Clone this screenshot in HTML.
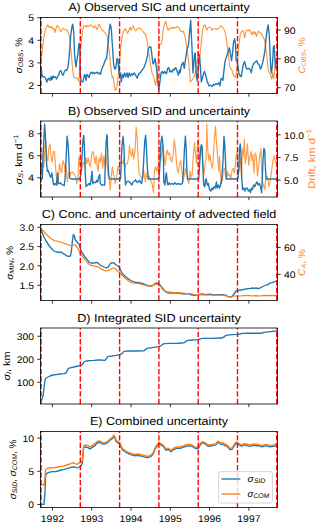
<!DOCTYPE html>
<html><head><meta charset="utf-8"><style>
html,body{margin:0;padding:0;background:#fff;}
svg{display:block;font-family:"Liberation Sans", sans-serif;text-rendering:geometricPrecision;}
</style></head><body>
<svg width="320" height="525" viewBox="0 0 320 525">
<defs><clipPath id="c0"><rect x="40.5" y="17.5" width="237.0" height="76.0"/></clipPath><clipPath id="c1"><rect x="40.5" y="121.0" width="237.0" height="76.0"/></clipPath><clipPath id="c2"><rect x="40.5" y="224.5" width="237.0" height="76.0"/></clipPath><clipPath id="c3"><rect x="40.5" y="328.0" width="237.0" height="76.0"/></clipPath><clipPath id="c4"><rect x="40.5" y="431.5" width="237.0" height="76.0"/></clipPath></defs>
<rect x="0" y="0" width="320" height="525" fill="#fff"/>
<g clip-path="url(#c0)">
<polyline points="41.20,59.20 42.30,50.00 43.80,37.90 45.30,29.50 46.90,26.40 47.90,24.90 48.80,27.20 49.90,26.40 51.00,28.00 51.90,26.40 53.00,29.50 54.00,28.70 55.20,32.50 56.50,26.40 57.50,25.70 58.60,27.20 59.80,29.50 61.00,31.80 62.10,29.50 63.20,28.00 64.40,29.50 65.60,29.50 66.70,30.20 67.70,31.00 69.00,34.80 70.00,40.90 71.20,53.10 72.30,65.30 73.20,74.40 73.80,77.50 74.50,77.50 76.00,77.50 77.60,79.00 78.80,81.30 79.40,72.90 80.30,53.10 81.40,40.90 82.40,31.80 83.70,26.40 85.20,25.70 86.40,27.20 87.50,25.70 88.50,26.40 89.80,25.70 91.00,24.90 92.00,26.40 93.60,28.00 94.60,25.70 95.90,27.20 97.10,29.50 98.10,26.40 99.20,24.10 100.40,27.20 101.60,29.50 102.70,30.20 104.20,31.80 105.80,34.00 107.20,36.30 108.30,44.00 109.40,53.10 110.30,62.20 111.30,71.40 112.10,77.50 112.90,76.00 113.60,80.50 114.40,86.60 115.40,90.40 116.70,88.10 117.90,79.00 119.00,66.80 120.00,56.10 120.90,45.50 122.00,37.90 123.10,32.50 124.30,30.20 125.50,28.70 126.60,31.80 127.60,33.30 128.90,30.20 130.10,27.20 131.10,30.20 132.20,28.00 133.40,25.70 134.60,29.50 135.70,31.00 137.20,28.70 138.80,28.00 140.50,28.70 142.00,30.20 143.60,32.50 145.10,34.00 146.30,37.10 147.40,42.40 148.40,50.00 149.70,59.20 150.90,66.80 152.00,72.90 153.50,76.00 154.50,80.50 155.50,85.10 156.50,79.00 157.60,72.90 158.50,53.10 159.60,44.70 161.10,44.00 162.20,39.40 163.40,28.70 164.60,24.10 165.70,21.10 166.20,22.60 167.30,28.70 168.40,30.20 169.60,28.00 171.10,28.70 172.30,27.20 173.40,28.70 174.40,27.20 175.70,28.00 177.20,26.40 178.70,27.20 180.00,30.20 181.50,31.80 183.00,31.00 184.60,34.80 186.10,42.40 187.60,53.10 189.10,66.80 190.40,82.00 192.20,79.80 193.70,77.50 195.20,72.90 196.80,66.80 197.50,57.70 198.30,51.60 199.40,60.70 200.30,53.10 201.30,42.40 202.60,30.20 203.60,25.70 205.10,24.90 206.70,30.20 208.20,27.50 210.50,27.50 212.00,30.20 213.50,28.70 215.30,28.70 216.40,29.50 217.60,28.70 219.10,28.00 220.60,25.70 221.80,26.40 222.90,28.00 224.40,30.20 226.00,36.30 227.00,44.00 228.20,53.10 229.50,65.30 230.50,68.30 231.60,69.10 232.80,72.90 234.00,76.00 235.10,77.50 236.20,74.40 237.10,65.30 238.10,53.10 239.20,42.40 240.40,33.30 241.60,31.80 242.70,30.20 243.80,32.50 244.70,37.90 245.80,31.80 246.80,30.20 247.20,30.20 248.30,31.00 249.40,29.50 250.60,31.80 251.80,34.80 252.90,31.80 253.90,34.00 255.10,31.80 256.40,36.30 257.40,33.30 258.50,31.00 259.70,32.50 261.20,33.30 262.80,36.30 264.30,39.40 265.50,45.50 266.60,54.60 267.60,63.80 268.60,71.40 269.60,72.90 270.70,75.20 271.60,79.00 272.70,72.90 273.40,79.00 274.60,71.40 275.70,59.20 277.20,57.70 278.50,57.00" fill="none" stroke="#ff7f0e" stroke-width="1.1" stroke-linejoin="round" stroke-linecap="butt" stroke-opacity="0.85"/>
<polyline points="41.20,66.80 41.80,74.40 43.00,76.70 44.60,76.70 45.80,79.00 46.90,82.00 47.90,79.00 48.80,78.20 49.90,80.50 51.00,76.70 51.90,79.80 53.00,76.00 54.00,77.50 55.20,76.70 56.50,79.00 57.50,76.70 58.60,75.20 59.80,71.40 61.00,70.60 62.10,74.40 63.20,75.20 64.40,71.40 65.60,69.90 66.70,70.60 67.70,68.30 68.60,62.20 69.70,50.00 70.80,34.80 72.00,26.40 72.80,24.10 73.80,33.30 74.50,53.10 75.30,62.20 76.00,66.80 76.80,60.70 77.60,56.10 78.30,50.00 79.10,43.20 79.90,50.00 80.30,72.90 80.90,80.50 81.80,81.30 82.90,82.00 84.00,76.00 84.90,74.40 86.00,80.50 87.00,74.40 88.20,76.00 89.00,77.50 90.10,73.70 91.30,72.10 92.50,73.70 93.60,72.10 94.60,73.70 95.90,72.90 97.10,72.10 98.10,73.70 99.20,72.90 100.40,74.40 102.00,68.30 103.50,65.30 105.00,60.70 106.50,58.40 107.20,53.10 108.30,40.90 109.40,28.70 110.30,24.10 111.30,28.70 112.40,45.50 113.60,63.80 114.40,68.30 115.40,69.10 116.40,63.80 117.10,58.40 117.90,59.20 118.50,66.80 119.40,74.40 120.50,72.90 121.20,82.00 122.50,74.40 123.50,77.50 124.60,72.90 125.80,76.70 127.00,72.90 128.10,77.50 129.20,72.90 130.40,76.00 131.60,73.70 132.70,75.20 134.20,72.90 135.70,75.20 137.20,78.20 138.80,73.70 140.20,72.90 141.30,71.40 142.80,69.10 144.30,66.80 145.90,62.20 147.40,56.10 148.40,48.50 149.70,47.00 150.90,47.00 152.00,56.10 153.00,63.80 154.20,62.20 155.00,58.40 156.10,65.30 157.00,72.90 158.00,83.60 158.80,89.70 159.90,82.00 161.10,72.90 162.20,71.40 163.40,73.70 164.60,71.40 165.70,72.90 166.50,73.70 167.70,68.30 168.80,67.60 169.90,72.10 171.10,70.60 172.30,72.10 173.40,69.10 174.40,69.90 175.70,67.60 176.90,70.60 178.40,75.20 179.50,69.90 180.00,72.90 181.50,65.30 183.00,62.20 184.30,68.30 185.30,60.70 186.90,50.00 188.40,45.50 189.40,34.80 190.70,20.30 191.90,45.50 193.00,72.90 194.50,54.60 195.20,53.00 196.30,76.00 197.20,80.50 198.30,68.30 199.40,54.60 200.30,65.30 201.30,82.00 202.90,76.00 204.40,71.40 205.90,76.00 207.40,82.00 209.00,85.90 210.50,85.10 212.00,86.60 213.50,84.30 214.50,85.10 216.00,83.60 217.60,84.30 219.10,82.80 219.90,85.90 220.90,79.00 221.80,78.20 222.90,80.50 224.00,69.90 225.20,60.70 226.70,56.10 228.20,51.60 229.50,47.80 230.50,54.60 231.60,60.70 232.50,53.10 233.60,41.70 234.60,38.60 235.60,45.50 236.20,60.70 237.10,59.20 237.80,65.30 238.90,72.90 240.10,76.00 241.20,76.70 242.30,69.90 243.50,63.80 244.70,61.50 245.80,66.80 246.80,69.10 247.50,69.10 249.00,68.30 250.30,69.90 251.30,72.90 252.40,66.80 253.60,63.80 255.10,62.20 256.70,60.70 257.90,63.80 259.40,65.30 260.50,69.10 261.50,66.80 262.80,62.20 264.00,56.10 265.00,50.00 266.10,37.90 267.30,28.70 268.20,24.90 269.20,34.80 270.10,53.10 270.80,69.90 271.60,72.90 272.70,60.70 273.40,47.00 274.20,45.50 275.00,60.70 275.70,68.30 276.50,60.70 277.20,57.70 278.50,57.00" fill="none" stroke="#1f77b4" stroke-width="1.37" stroke-linejoin="round" stroke-linecap="butt" />
</g>
<line x1="41.0" y1="93.5" x2="41.0" y2="17.5" stroke="#ff0000" stroke-width="1.37" stroke-dasharray="5.3 2.15"/>
<line x1="80.3" y1="93.5" x2="80.3" y2="17.5" stroke="#ff0000" stroke-width="1.37" stroke-dasharray="5.3 2.15"/>
<line x1="119.6" y1="93.5" x2="119.6" y2="17.5" stroke="#ff0000" stroke-width="1.37" stroke-dasharray="5.3 2.15"/>
<line x1="158.89999999999998" y1="93.5" x2="158.89999999999998" y2="17.5" stroke="#ff0000" stroke-width="1.37" stroke-dasharray="5.3 2.15"/>
<line x1="198.2" y1="93.5" x2="198.2" y2="17.5" stroke="#ff0000" stroke-width="1.37" stroke-dasharray="5.3 2.15"/>
<line x1="237.5" y1="93.5" x2="237.5" y2="17.5" stroke="#ff0000" stroke-width="1.37" stroke-dasharray="5.3 2.15"/>
<line x1="276.79999999999995" y1="93.5" x2="276.79999999999995" y2="17.5" stroke="#ff0000" stroke-width="1.37" stroke-dasharray="5.3 2.15"/>
<rect x="40.5" y="17.5" width="237.0" height="76.0" fill="none" stroke="#000" stroke-width="0.8"/>
<line x1="52.4" y1="93.5" x2="52.4" y2="96.7" stroke="#000" stroke-width="0.8"/>
<line x1="91.69999999999999" y1="93.5" x2="91.69999999999999" y2="96.7" stroke="#000" stroke-width="0.8"/>
<line x1="131.0" y1="93.5" x2="131.0" y2="96.7" stroke="#000" stroke-width="0.8"/>
<line x1="170.29999999999998" y1="93.5" x2="170.29999999999998" y2="96.7" stroke="#000" stroke-width="0.8"/>
<line x1="209.6" y1="93.5" x2="209.6" y2="96.7" stroke="#000" stroke-width="0.8"/>
<line x1="248.9" y1="93.5" x2="248.9" y2="96.7" stroke="#000" stroke-width="0.8"/>
<line x1="37.3" y1="17.7" x2="40.5" y2="17.7" stroke="#000" stroke-width="0.8"/>
<text x="34.10" y="21.40" font-size="9.6" fill="#000" text-anchor="end" textLength="5.79" lengthAdjust="spacingAndGlyphs" >5</text>
<line x1="37.3" y1="40.3" x2="40.5" y2="40.3" stroke="#000" stroke-width="0.8"/>
<text x="34.10" y="44.00" font-size="9.6" fill="#000" text-anchor="end" textLength="5.79" lengthAdjust="spacingAndGlyphs" >4</text>
<line x1="37.3" y1="62.9" x2="40.5" y2="62.9" stroke="#000" stroke-width="0.8"/>
<text x="34.10" y="66.60" font-size="9.6" fill="#000" text-anchor="end" textLength="5.79" lengthAdjust="spacingAndGlyphs" >3</text>
<line x1="37.3" y1="85.5" x2="40.5" y2="85.5" stroke="#000" stroke-width="0.8"/>
<text x="34.10" y="89.20" font-size="9.6" fill="#000" text-anchor="end" textLength="5.79" lengthAdjust="spacingAndGlyphs" >2</text>
<line x1="277.5" y1="30.0" x2="280.7" y2="30.0" stroke="#000" stroke-width="0.8"/>
<text x="283.90" y="33.70" font-size="9.6" fill="#000" text-anchor="start" textLength="11.58" lengthAdjust="spacingAndGlyphs" >90</text>
<line x1="277.5" y1="58.85" x2="280.7" y2="58.85" stroke="#000" stroke-width="0.8"/>
<text x="283.90" y="62.55" font-size="9.6" fill="#000" text-anchor="start" textLength="11.58" lengthAdjust="spacingAndGlyphs" >80</text>
<line x1="277.5" y1="87.7" x2="280.7" y2="87.7" stroke="#000" stroke-width="0.8"/>
<text x="283.90" y="91.40" font-size="9.6" fill="#000" text-anchor="start" textLength="11.58" lengthAdjust="spacingAndGlyphs" >70</text>
<text x="159.00" y="11.40" font-size="11.5" fill="#000" text-anchor="middle" textLength="181.25" lengthAdjust="spacingAndGlyphs" >A) Observed SIC and uncertainty</text>
<g clip-path="url(#c1)">
<polyline points="41.50,148.50 42.70,160.70 43.80,166.80 44.90,148.50 45.80,140.90 46.90,157.60 47.90,160.70 48.80,148.50 49.90,143.90 51.00,156.10 52.20,162.20 53.40,151.50 54.50,151.50 55.50,166.80 56.80,180.50 57.70,185.00 58.60,175.90 59.50,163.70 60.60,169.80 61.60,172.90 62.90,160.70 64.10,163.70 65.10,171.30 66.20,166.80 67.40,182.00 68.60,172.90 69.70,175.90 70.50,172.90 72.00,172.10 73.50,172.90 74.50,174.40 75.70,177.40 76.80,183.50 77.90,179.00 78.80,157.60 79.40,163.70 80.30,157.60 81.40,171.30 82.40,165.20 83.70,162.20 84.90,166.80 86.00,157.60 87.00,163.70 88.20,157.60 89.50,165.20 90.50,166.80 91.60,154.60 92.80,151.50 94.00,156.10 95.10,163.70 96.20,156.10 97.10,165.20 98.10,171.30 99.20,157.60 100.40,162.20 101.60,153.00 102.70,168.30 103.80,156.10 104.70,165.20 105.80,154.60 106.80,163.70 107.20,165.20 108.30,175.90 109.40,180.50 110.30,189.60 111.30,175.90 112.40,166.80 113.30,172.90 114.40,179.00 115.40,183.50 116.70,175.90 117.90,166.80 119.00,169.80 120.00,160.70 120.90,163.70 122.00,160.70 123.10,163.70 124.00,159.10 125.00,168.30 126.10,163.70 127.30,163.70 128.60,157.60 129.60,145.40 130.40,153.00 131.60,156.10 132.70,148.50 133.70,159.10 135.00,151.50 136.20,127.10 137.20,137.80 138.00,156.10 139.20,174.40 140.20,175.90 141.30,177.40 142.40,179.00 143.60,169.80 144.30,174.40 145.40,182.00 146.60,172.90 147.80,179.00 148.90,175.90 150.00,179.00 151.20,182.00 152.40,185.00 153.50,192.70 154.50,169.80 155.50,166.80 156.50,171.30 157.30,166.80 158.50,171.30 159.10,145.40 160.00,151.50 160.60,160.70 161.60,156.10 162.20,147.00 163.10,145.40 164.10,157.60 165.20,165.20 166.10,156.10 167.20,150.00 168.30,154.60 169.50,153.00 170.70,159.10 171.80,162.20 172.80,156.10 173.20,154.60 174.30,139.30 175.40,148.50 176.30,159.10 177.30,169.80 178.40,172.90 179.60,163.70 180.80,160.70 181.90,171.30 183.00,182.00 184.20,175.90 185.40,168.30 186.50,172.90 187.50,179.00 188.80,183.50 190.00,171.30 191.00,177.40 192.10,174.40 193.30,156.10 194.60,142.40 195.60,156.10 196.70,163.70 197.60,140.90 198.70,143.90 199.70,160.70 200.60,154.60 201.70,145.40 202.80,163.70 204.00,174.40 205.20,163.70 206.20,157.60 206.80,124.10 207.70,148.50 208.80,160.70 209.90,154.60 211.10,163.70 212.30,168.30 213.40,156.10 214.40,137.80 215.40,126.40 216.40,140.90 217.50,156.10 218.70,171.30 219.50,156.10 220.50,175.90 221.50,183.50 222.50,179.00 223.30,169.80 224.50,168.30 225.60,175.90 226.60,179.00 227.60,171.30 228.60,175.90 229.70,174.40 230.90,179.00 232.10,169.80 233.20,168.30 234.30,172.90 235.20,166.80 236.20,156.10 237.00,151.50 237.80,163.70 238.80,171.30 239.20,168.30 240.30,157.60 241.40,175.90 242.60,148.50 243.30,156.10 244.40,139.30 245.30,163.70 246.40,156.10 247.40,143.90 248.70,165.20 249.90,156.10 251.00,151.50 252.00,160.70 252.90,154.60 254.00,172.90 255.10,153.00 256.30,156.10 257.50,175.90 258.60,168.30 259.60,156.10 260.90,148.50 261.60,168.30 262.40,182.00 263.60,185.00 264.70,189.60 265.70,177.40 267.00,175.90 268.20,182.00 269.20,186.60 270.30,180.50 271.50,171.30 273.00,160.70 274.00,156.10 275.10,160.70 276.30,163.70 277.00,160.70 278.50,158.00" fill="none" stroke="#ff7f0e" stroke-width="1.2" stroke-linejoin="round" stroke-linecap="butt" stroke-opacity="0.75"/>
<polyline points="41.50,163.70 42.30,179.00 43.40,148.50 44.60,124.10 45.50,137.80 46.40,160.70 47.30,171.30 48.40,170.60 49.40,174.40 50.70,177.40 51.90,172.90 53.00,182.00 54.00,185.00 55.20,183.50 56.50,185.00 57.50,172.90 58.30,183.50 59.50,183.50 60.60,182.80 61.60,184.30 62.90,185.00 64.10,185.80 65.10,179.00 66.20,156.10 67.10,136.30 68.20,145.40 69.00,163.70 69.70,178.20 71.20,179.00 79.90,179.00 80.90,174.40 81.80,160.70 82.90,140.90 83.70,135.50 84.40,145.40 85.20,171.30 86.00,186.60 87.50,185.00 89.00,183.50 90.10,185.00 91.00,180.50 92.00,171.30 92.80,183.50 94.00,182.00 95.60,182.80 96.60,180.50 97.70,182.00 98.60,177.40 99.70,174.40 100.40,183.50 101.60,185.00 103.50,185.00 104.70,185.00 105.30,163.70 106.20,140.90 106.80,134.80 107.20,136.30 107.80,156.10 108.70,175.90 109.80,179.00 113.60,179.00 117.40,179.00 120.50,179.00 121.20,163.70 122.00,145.40 123.10,136.30 124.00,148.50 124.60,168.30 125.50,185.00 126.60,182.00 128.10,181.20 129.60,182.00 130.70,183.50 131.90,185.00 133.10,182.00 134.60,181.20 135.70,179.70 136.50,182.00 138.00,182.00 139.50,180.50 140.50,182.00 141.70,183.50 142.80,175.90 143.90,156.10 144.80,140.90 145.60,135.50 146.30,145.40 147.40,168.30 148.40,179.00 151.20,179.00 154.20,179.00 158.00,179.00 159.10,177.40 160.00,163.70 160.80,143.90 161.90,136.30 162.60,140.90 163.40,156.10 163.80,182.00 164.90,185.00 165.70,175.90 166.40,172.90 167.20,182.00 168.00,185.00 169.20,182.80 170.20,184.30 171.80,183.50 172.80,184.30 173.50,184.30 174.70,182.80 176.30,184.30 178.10,183.50 180.40,184.30 182.40,183.50 183.40,171.30 184.50,148.50 185.40,136.30 186.20,148.50 186.90,171.30 187.50,179.00 191.80,179.00 196.40,179.00 198.70,179.00 199.40,168.30 200.20,153.00 201.30,144.70 202.20,147.00 202.90,168.30 203.70,185.00 204.80,186.60 205.80,179.00 206.20,179.00 207.30,185.00 208.40,183.50 209.60,189.60 210.80,191.10 211.90,188.10 212.90,189.60 214.10,186.60 215.40,188.10 216.40,182.00 217.20,188.10 218.40,185.00 219.50,188.10 220.50,185.00 221.80,179.00 223.00,160.70 224.00,136.30 224.80,145.40 225.60,163.70 226.30,179.00 229.40,179.00 234.00,179.00 237.80,179.00 238.80,169.80 239.50,148.50 240.30,143.90 241.00,154.60 241.80,179.00 242.60,189.60 243.80,188.10 244.90,191.10 245.90,188.10 247.10,188.10 248.40,191.10 249.40,189.60 250.50,192.70 251.40,188.10 252.50,189.60 253.50,185.00 254.80,186.60 256.00,183.50 257.00,182.00 258.10,185.00 259.30,183.50 260.60,186.60 261.60,192.70 262.40,175.90 263.10,157.60 263.90,148.50 264.70,150.00 265.40,168.30 266.20,179.00 278.50,179.00" fill="none" stroke="#1f77b4" stroke-width="1.37" stroke-linejoin="round" stroke-linecap="butt" />
</g>
<line x1="41.0" y1="197.0" x2="41.0" y2="121.0" stroke="#ff0000" stroke-width="1.37" stroke-dasharray="5.3 2.15"/>
<line x1="80.3" y1="197.0" x2="80.3" y2="121.0" stroke="#ff0000" stroke-width="1.37" stroke-dasharray="5.3 2.15"/>
<line x1="119.6" y1="197.0" x2="119.6" y2="121.0" stroke="#ff0000" stroke-width="1.37" stroke-dasharray="5.3 2.15"/>
<line x1="158.89999999999998" y1="197.0" x2="158.89999999999998" y2="121.0" stroke="#ff0000" stroke-width="1.37" stroke-dasharray="5.3 2.15"/>
<line x1="198.2" y1="197.0" x2="198.2" y2="121.0" stroke="#ff0000" stroke-width="1.37" stroke-dasharray="5.3 2.15"/>
<line x1="237.5" y1="197.0" x2="237.5" y2="121.0" stroke="#ff0000" stroke-width="1.37" stroke-dasharray="5.3 2.15"/>
<line x1="276.79999999999995" y1="197.0" x2="276.79999999999995" y2="121.0" stroke="#ff0000" stroke-width="1.37" stroke-dasharray="5.3 2.15"/>
<rect x="40.5" y="121.0" width="237.0" height="76.0" fill="none" stroke="#000" stroke-width="0.8"/>
<line x1="52.4" y1="197.0" x2="52.4" y2="200.2" stroke="#000" stroke-width="0.8"/>
<line x1="91.69999999999999" y1="197.0" x2="91.69999999999999" y2="200.2" stroke="#000" stroke-width="0.8"/>
<line x1="131.0" y1="197.0" x2="131.0" y2="200.2" stroke="#000" stroke-width="0.8"/>
<line x1="170.29999999999998" y1="197.0" x2="170.29999999999998" y2="200.2" stroke="#000" stroke-width="0.8"/>
<line x1="209.6" y1="197.0" x2="209.6" y2="200.2" stroke="#000" stroke-width="0.8"/>
<line x1="248.9" y1="197.0" x2="248.9" y2="200.2" stroke="#000" stroke-width="0.8"/>
<line x1="37.3" y1="133.75" x2="40.5" y2="133.75" stroke="#000" stroke-width="0.8"/>
<text x="34.10" y="137.45" font-size="9.6" fill="#000" text-anchor="end" textLength="5.79" lengthAdjust="spacingAndGlyphs" >8</text>
<line x1="37.3" y1="155.75" x2="40.5" y2="155.75" stroke="#000" stroke-width="0.8"/>
<text x="34.10" y="159.45" font-size="9.6" fill="#000" text-anchor="end" textLength="5.79" lengthAdjust="spacingAndGlyphs" >6</text>
<line x1="37.3" y1="177.75" x2="40.5" y2="177.75" stroke="#000" stroke-width="0.8"/>
<text x="34.10" y="181.45" font-size="9.6" fill="#000" text-anchor="end" textLength="5.79" lengthAdjust="spacingAndGlyphs" >4</text>
<line x1="277.5" y1="134.8" x2="280.7" y2="134.8" stroke="#000" stroke-width="0.8"/>
<text x="283.90" y="138.50" font-size="9.6" fill="#000" text-anchor="start" textLength="20.27" lengthAdjust="spacingAndGlyphs" >10.0</text>
<line x1="277.5" y1="157.45" x2="280.7" y2="157.45" stroke="#000" stroke-width="0.8"/>
<text x="283.90" y="161.15" font-size="9.6" fill="#000" text-anchor="start" textLength="14.48" lengthAdjust="spacingAndGlyphs" >7.5</text>
<line x1="277.5" y1="180.1" x2="280.7" y2="180.1" stroke="#000" stroke-width="0.8"/>
<text x="283.90" y="183.80" font-size="9.6" fill="#000" text-anchor="start" textLength="14.48" lengthAdjust="spacingAndGlyphs" >5.0</text>
<text x="159.00" y="114.90" font-size="11.5" fill="#000" text-anchor="middle" textLength="182.12" lengthAdjust="spacingAndGlyphs" >B) Observed SID and uncertainty</text>
<g clip-path="url(#c2)">
<polyline points="41.00,228.00 42.00,232.00 44.00,237.00 46.00,241.00 48.00,244.00 50.00,247.00 52.00,249.00 54.00,251.00 56.00,252.00 58.00,252.00 60.00,252.60 61.00,252.00 63.00,253.40 65.00,254.60 67.00,256.00 69.00,256.40 70.40,256.00 71.40,251.00 72.40,241.00 73.40,234.40 74.40,236.00 75.40,240.00 77.00,242.00 79.00,244.00 80.00,247.00 81.00,251.00 83.00,254.00 85.00,257.00 87.00,259.40 89.00,262.00 91.00,263.00 93.00,263.00 95.00,263.00 96.00,262.40 98.00,263.00 100.00,265.00 102.00,266.00 104.00,267.00 106.00,268.00 108.00,267.40 110.00,264.00 112.00,262.60 114.00,263.00 116.00,265.00 118.00,266.00 119.00,267.00 120.00,269.00 122.00,273.00 124.00,275.40 126.00,277.00 128.00,278.60 130.00,280.00 132.00,281.00 134.00,282.00 136.00,282.40 138.00,282.40 140.00,283.00 142.00,283.40 144.00,284.00 146.00,285.00 148.00,285.60 150.00,286.00 152.00,286.00 154.00,284.60 156.00,283.00 158.00,283.40 160.00,285.00 162.00,287.40 162.00,287.40 164.00,290.00 166.00,292.00 168.00,293.00 172.00,293.00 176.00,293.00 180.00,293.40 184.00,294.00 188.00,293.60 192.00,295.00 195.00,295.40 198.00,294.60 202.00,294.00 206.00,294.60 210.00,294.20 214.00,295.00 218.00,294.60 222.00,294.60 224.00,295.00 226.00,295.40 228.00,296.60 230.00,297.00 232.00,296.60 234.00,294.00 236.00,291.00 238.00,290.60 240.00,290.00 242.00,290.00 244.00,289.40 246.00,289.00 248.00,288.60 250.00,288.60 252.00,288.00 254.00,288.40 256.00,288.00 258.00,288.60 260.00,288.00 262.00,287.00 264.00,286.00 266.00,285.00 268.00,284.60 270.00,283.00 272.00,282.60 274.00,282.00 277.00,280.60" fill="none" stroke="#1f77b4" stroke-width="1.37" stroke-linejoin="round" stroke-linecap="butt" />
<polyline points="41.00,228.60 43.00,230.60 45.00,233.00 48.00,236.00 51.00,238.60 54.00,240.60 57.00,241.00 60.00,242.00 63.00,243.00 66.00,244.00 69.00,245.00 71.00,246.00 73.00,245.00 75.00,244.60 77.00,247.00 79.00,251.00 81.00,254.00 83.00,257.00 85.00,259.40 87.00,262.00 89.00,264.00 91.00,265.40 94.00,266.00 97.00,266.60 99.00,267.40 102.00,269.40 104.00,270.40 106.00,271.00 108.00,270.40 110.00,269.60 112.00,268.40 114.00,268.00 116.00,269.40 118.00,271.60 120.00,273.00 122.00,275.00 124.00,277.00 126.00,279.00 128.00,280.60 130.00,282.00 132.00,282.60 134.00,283.00 136.00,283.40 138.00,283.40 140.00,284.00 142.00,284.60 144.00,285.00 146.00,285.60 148.00,286.00 150.00,286.40 152.00,286.00 154.00,285.00 156.00,284.00 158.00,284.60 160.00,286.00 162.00,288.00 162.00,288.60 164.00,290.60 166.00,291.60 170.00,292.00 174.00,292.60 178.00,292.60 182.00,293.00 186.00,293.40 190.00,293.60 194.00,294.60 198.00,295.00 202.00,294.60 206.00,295.00 210.00,295.00 214.00,295.40 218.00,295.00 222.00,295.40 224.00,295.40 226.00,296.00 228.00,296.60 230.00,297.00 232.00,297.00 234.00,296.00 236.00,296.00 238.00,296.00 240.00,296.00 244.00,295.60 248.00,295.40 252.00,296.00 256.00,295.60 260.00,296.00 264.00,295.40 268.00,295.60 272.00,295.40 277.00,295.60" fill="none" stroke="#ff7f0e" stroke-width="1.2" stroke-linejoin="round" stroke-linecap="butt" />
</g>
<line x1="41.0" y1="300.5" x2="41.0" y2="224.5" stroke="#ff0000" stroke-width="1.37" stroke-dasharray="5.3 2.15"/>
<line x1="80.3" y1="300.5" x2="80.3" y2="224.5" stroke="#ff0000" stroke-width="1.37" stroke-dasharray="5.3 2.15"/>
<line x1="119.6" y1="300.5" x2="119.6" y2="224.5" stroke="#ff0000" stroke-width="1.37" stroke-dasharray="5.3 2.15"/>
<line x1="158.89999999999998" y1="300.5" x2="158.89999999999998" y2="224.5" stroke="#ff0000" stroke-width="1.37" stroke-dasharray="5.3 2.15"/>
<line x1="198.2" y1="300.5" x2="198.2" y2="224.5" stroke="#ff0000" stroke-width="1.37" stroke-dasharray="5.3 2.15"/>
<line x1="237.5" y1="300.5" x2="237.5" y2="224.5" stroke="#ff0000" stroke-width="1.37" stroke-dasharray="5.3 2.15"/>
<line x1="276.79999999999995" y1="300.5" x2="276.79999999999995" y2="224.5" stroke="#ff0000" stroke-width="1.37" stroke-dasharray="5.3 2.15"/>
<rect x="40.5" y="224.5" width="237.0" height="76.0" fill="none" stroke="#000" stroke-width="0.8"/>
<line x1="52.4" y1="300.5" x2="52.4" y2="303.7" stroke="#000" stroke-width="0.8"/>
<line x1="91.69999999999999" y1="300.5" x2="91.69999999999999" y2="303.7" stroke="#000" stroke-width="0.8"/>
<line x1="131.0" y1="300.5" x2="131.0" y2="303.7" stroke="#000" stroke-width="0.8"/>
<line x1="170.29999999999998" y1="300.5" x2="170.29999999999998" y2="303.7" stroke="#000" stroke-width="0.8"/>
<line x1="209.6" y1="300.5" x2="209.6" y2="303.7" stroke="#000" stroke-width="0.8"/>
<line x1="248.9" y1="300.5" x2="248.9" y2="303.7" stroke="#000" stroke-width="0.8"/>
<line x1="37.3" y1="227.25" x2="40.5" y2="227.25" stroke="#000" stroke-width="0.8"/>
<text x="34.10" y="230.95" font-size="9.6" fill="#000" text-anchor="end" textLength="14.48" lengthAdjust="spacingAndGlyphs" >3.0</text>
<line x1="37.3" y1="246.6" x2="40.5" y2="246.6" stroke="#000" stroke-width="0.8"/>
<text x="34.10" y="250.30" font-size="9.6" fill="#000" text-anchor="end" textLength="14.48" lengthAdjust="spacingAndGlyphs" >2.5</text>
<line x1="37.3" y1="265.9" x2="40.5" y2="265.9" stroke="#000" stroke-width="0.8"/>
<text x="34.10" y="269.60" font-size="9.6" fill="#000" text-anchor="end" textLength="14.48" lengthAdjust="spacingAndGlyphs" >2.0</text>
<line x1="37.3" y1="285.25" x2="40.5" y2="285.25" stroke="#000" stroke-width="0.8"/>
<text x="34.10" y="288.95" font-size="9.6" fill="#000" text-anchor="end" textLength="14.48" lengthAdjust="spacingAndGlyphs" >1.5</text>
<line x1="277.5" y1="247.4" x2="280.7" y2="247.4" stroke="#000" stroke-width="0.8"/>
<text x="283.90" y="251.10" font-size="9.6" fill="#000" text-anchor="start" textLength="11.58" lengthAdjust="spacingAndGlyphs" >60</text>
<line x1="277.5" y1="274.4" x2="280.7" y2="274.4" stroke="#000" stroke-width="0.8"/>
<text x="283.90" y="278.10" font-size="9.6" fill="#000" text-anchor="start" textLength="11.58" lengthAdjust="spacingAndGlyphs" >40</text>
<text x="159.00" y="218.40" font-size="11.5" fill="#000" text-anchor="middle" textLength="234.5" lengthAdjust="spacingAndGlyphs" >C) Conc. and uncertainty of advected field</text>
<g clip-path="url(#c3)">
<polyline points="41.00,401.00 42.00,399.00 43.00,396.00 44.00,388.00 45.00,380.00 46.00,378.00 48.00,377.00 50.00,376.00 53.00,375.00 56.00,374.60 60.00,374.00 64.00,373.60 66.00,373.00 67.00,371.00 68.40,368.40 71.00,367.60 74.00,367.00 78.00,366.00 81.00,365.60 82.40,364.40 84.00,362.00 86.00,361.00 90.00,360.60 94.00,360.40 98.00,360.00 100.00,360.00 105.00,360.40 108.00,356.40 112.00,356.00 116.00,355.40 120.00,354.60 122.00,353.60 124.00,351.40 128.00,351.00 136.00,351.00 144.00,350.80 147.00,348.40 152.00,347.60 159.00,346.60 161.00,345.60 162.00,345.00 164.00,343.60 170.00,343.40 178.00,343.20 184.00,342.80 187.00,340.60 192.00,340.00 198.00,339.60 202.00,338.40 210.00,338.40 222.00,338.00 225.00,336.00 224.00,337.00 226.00,335.40 232.00,334.60 238.00,334.40 240.00,334.00 242.00,333.40 248.00,333.20 262.00,333.20 264.00,332.40 270.00,331.60 277.00,331.00" fill="none" stroke="#1f77b4" stroke-width="1.37" stroke-linejoin="round" stroke-linecap="butt" />
</g>
<line x1="41.0" y1="404.0" x2="41.0" y2="328.0" stroke="#ff0000" stroke-width="1.37" stroke-dasharray="5.3 2.15"/>
<line x1="80.3" y1="404.0" x2="80.3" y2="328.0" stroke="#ff0000" stroke-width="1.37" stroke-dasharray="5.3 2.15"/>
<line x1="119.6" y1="404.0" x2="119.6" y2="328.0" stroke="#ff0000" stroke-width="1.37" stroke-dasharray="5.3 2.15"/>
<line x1="158.89999999999998" y1="404.0" x2="158.89999999999998" y2="328.0" stroke="#ff0000" stroke-width="1.37" stroke-dasharray="5.3 2.15"/>
<line x1="198.2" y1="404.0" x2="198.2" y2="328.0" stroke="#ff0000" stroke-width="1.37" stroke-dasharray="5.3 2.15"/>
<line x1="237.5" y1="404.0" x2="237.5" y2="328.0" stroke="#ff0000" stroke-width="1.37" stroke-dasharray="5.3 2.15"/>
<line x1="276.79999999999995" y1="404.0" x2="276.79999999999995" y2="328.0" stroke="#ff0000" stroke-width="1.37" stroke-dasharray="5.3 2.15"/>
<rect x="40.5" y="328.0" width="237.0" height="76.0" fill="none" stroke="#000" stroke-width="0.8"/>
<line x1="52.4" y1="404.0" x2="52.4" y2="407.2" stroke="#000" stroke-width="0.8"/>
<line x1="91.69999999999999" y1="404.0" x2="91.69999999999999" y2="407.2" stroke="#000" stroke-width="0.8"/>
<line x1="131.0" y1="404.0" x2="131.0" y2="407.2" stroke="#000" stroke-width="0.8"/>
<line x1="170.29999999999998" y1="404.0" x2="170.29999999999998" y2="407.2" stroke="#000" stroke-width="0.8"/>
<line x1="209.6" y1="404.0" x2="209.6" y2="407.2" stroke="#000" stroke-width="0.8"/>
<line x1="248.9" y1="404.0" x2="248.9" y2="407.2" stroke="#000" stroke-width="0.8"/>
<line x1="37.3" y1="336.25" x2="40.5" y2="336.25" stroke="#000" stroke-width="0.8"/>
<text x="34.10" y="339.95" font-size="9.6" fill="#000" text-anchor="end" textLength="17.37" lengthAdjust="spacingAndGlyphs" >300</text>
<line x1="37.3" y1="359.3" x2="40.5" y2="359.3" stroke="#000" stroke-width="0.8"/>
<text x="34.10" y="363.00" font-size="9.6" fill="#000" text-anchor="end" textLength="17.37" lengthAdjust="spacingAndGlyphs" >200</text>
<line x1="37.3" y1="382.3" x2="40.5" y2="382.3" stroke="#000" stroke-width="0.8"/>
<text x="34.10" y="386.00" font-size="9.6" fill="#000" text-anchor="end" textLength="17.37" lengthAdjust="spacingAndGlyphs" >100</text>
<text x="159.00" y="321.90" font-size="11.5" fill="#000" text-anchor="middle" textLength="163.75" lengthAdjust="spacingAndGlyphs" >D) Integrated SID uncertainty</text>
<g clip-path="url(#c4)">
<polyline points="41.00,504.40 44.00,504.40 45.00,492.00 45.60,476.00 46.40,473.60 49.00,472.40 52.00,471.60 55.00,471.60 58.00,471.00 61.00,470.00 64.00,469.40 67.00,468.60 70.00,467.60 73.00,467.00 75.00,467.00 77.00,468.00 79.00,467.00 81.00,466.00 82.40,463.00 83.60,448.00 85.00,447.00 88.00,447.60 90.00,449.00 92.00,447.60 95.00,445.60 97.00,443.00 100.00,442.40 102.00,443.70 104.00,444.30 106.00,443.30 108.00,442.30 110.00,440.30 112.00,438.90 114.00,436.30 115.00,438.30 116.00,441.30 118.00,442.90 120.00,444.30 121.00,447.30 123.00,450.30 126.00,452.30 130.00,454.30 134.00,455.70 138.00,455.30 142.00,456.30 146.00,457.30 148.00,457.70 151.00,456.30 153.00,454.30 155.00,449.30 157.00,446.30 159.00,443.70 161.00,445.30 162.00,445.30 164.00,447.30 166.00,450.30 168.00,449.30 171.00,451.70 174.00,449.30 177.00,448.30 180.00,448.30 183.00,447.30 186.00,446.30 189.00,445.70 192.00,446.30 195.00,448.30 198.00,448.90 200.00,445.30 202.00,442.90 205.00,443.70 208.00,446.30 212.00,445.70 216.00,444.90 218.00,442.30 221.00,444.30 224.00,444.30 224.00,445.30 226.00,445.70 228.00,447.30 230.00,449.70 232.00,449.30 234.00,446.30 236.00,443.30 238.00,444.30 240.00,445.30 242.00,446.30 244.00,444.90 246.00,445.30 250.00,446.30 254.00,445.30 258.00,445.70 262.00,446.90 266.00,445.70 270.00,446.90 274.00,446.30 277.00,445.30" fill="none" stroke="#1f77b4" stroke-width="1.37" stroke-linejoin="round" stroke-linecap="butt" />
<polyline points="41.00,484.40 44.00,485.00 45.00,478.00 45.60,470.00 47.00,468.40 49.00,468.00 52.00,467.60 55.00,467.60 58.00,467.00 61.00,466.40 64.00,466.00 67.00,465.00 70.00,464.00 73.00,462.60 75.00,463.60 77.00,464.40 79.00,463.00 81.00,462.60 82.40,460.00 83.60,446.00 85.00,445.00 88.00,445.60 90.00,447.00 92.00,445.60 95.00,443.60 97.00,441.40 100.00,441.00 102.00,442.40 104.00,443.00 106.00,442.00 108.00,441.00 110.00,439.00 112.00,437.60 114.00,435.00 115.00,437.00 116.00,440.00 118.00,441.60 120.00,443.00 121.00,446.00 123.00,449.00 126.00,451.00 130.00,453.00 134.00,454.40 138.00,454.00 142.00,455.00 146.00,456.00 148.00,456.40 151.00,455.00 153.00,453.00 155.00,448.00 157.00,445.00 159.00,442.40 161.00,444.00 162.00,444.00 164.00,446.00 166.00,449.00 168.00,448.00 171.00,450.40 174.00,448.00 177.00,447.00 180.00,447.00 183.00,446.00 186.00,445.00 189.00,444.40 192.00,445.00 195.00,447.00 198.00,447.60 200.00,444.00 202.00,441.60 205.00,442.40 208.00,445.00 212.00,444.40 216.00,443.60 218.00,441.00 221.00,443.00 224.00,443.00 224.00,444.00 226.00,444.40 228.00,446.00 230.00,448.40 232.00,448.00 234.00,445.00 236.00,442.00 238.00,443.00 240.00,444.00 242.00,445.00 244.00,443.60 246.00,444.00 250.00,445.00 254.00,444.00 258.00,444.40 262.00,445.60 266.00,444.40 270.00,445.60 274.00,445.00 277.00,444.00" fill="none" stroke="#ff7f0e" stroke-width="1.37" stroke-linejoin="round" stroke-linecap="butt" />
</g>
<line x1="41.0" y1="507.5" x2="41.0" y2="431.5" stroke="#ff0000" stroke-width="1.37" stroke-dasharray="5.3 2.15"/>
<line x1="80.3" y1="507.5" x2="80.3" y2="431.5" stroke="#ff0000" stroke-width="1.37" stroke-dasharray="5.3 2.15"/>
<line x1="119.6" y1="507.5" x2="119.6" y2="431.5" stroke="#ff0000" stroke-width="1.37" stroke-dasharray="5.3 2.15"/>
<line x1="158.89999999999998" y1="507.5" x2="158.89999999999998" y2="431.5" stroke="#ff0000" stroke-width="1.37" stroke-dasharray="5.3 2.15"/>
<line x1="198.2" y1="507.5" x2="198.2" y2="431.5" stroke="#ff0000" stroke-width="1.37" stroke-dasharray="5.3 2.15"/>
<line x1="237.5" y1="507.5" x2="237.5" y2="431.5" stroke="#ff0000" stroke-width="1.37" stroke-dasharray="5.3 2.15"/>
<line x1="276.79999999999995" y1="507.5" x2="276.79999999999995" y2="431.5" stroke="#ff0000" stroke-width="1.37" stroke-dasharray="5.3 2.15"/>
<rect x="40.5" y="431.5" width="237.0" height="76.0" fill="none" stroke="#000" stroke-width="0.8"/>
<line x1="52.4" y1="507.5" x2="52.4" y2="510.7" stroke="#000" stroke-width="0.8"/>
<line x1="91.69999999999999" y1="507.5" x2="91.69999999999999" y2="510.7" stroke="#000" stroke-width="0.8"/>
<line x1="131.0" y1="507.5" x2="131.0" y2="510.7" stroke="#000" stroke-width="0.8"/>
<line x1="170.29999999999998" y1="507.5" x2="170.29999999999998" y2="510.7" stroke="#000" stroke-width="0.8"/>
<line x1="209.6" y1="507.5" x2="209.6" y2="510.7" stroke="#000" stroke-width="0.8"/>
<line x1="248.9" y1="507.5" x2="248.9" y2="510.7" stroke="#000" stroke-width="0.8"/>
<line x1="37.3" y1="438.1" x2="40.5" y2="438.1" stroke="#000" stroke-width="0.8"/>
<text x="34.10" y="441.80" font-size="9.6" fill="#000" text-anchor="end" textLength="11.58" lengthAdjust="spacingAndGlyphs" >10</text>
<line x1="37.3" y1="471.3" x2="40.5" y2="471.3" stroke="#000" stroke-width="0.8"/>
<text x="34.10" y="475.00" font-size="9.6" fill="#000" text-anchor="end" textLength="5.79" lengthAdjust="spacingAndGlyphs" >5</text>
<line x1="37.3" y1="504.5" x2="40.5" y2="504.5" stroke="#000" stroke-width="0.8"/>
<text x="34.10" y="508.20" font-size="9.6" fill="#000" text-anchor="end" textLength="5.79" lengthAdjust="spacingAndGlyphs" >0</text>
<text x="159.00" y="425.40" font-size="11.5" fill="#000" text-anchor="middle" textLength="138.0" lengthAdjust="spacingAndGlyphs" >E) Combined uncertainty</text>
<text x="52.40" y="522.00" font-size="9.6" fill="#000" text-anchor="middle" textLength="23.1" lengthAdjust="spacingAndGlyphs" >1992</text>
<text x="91.70" y="522.00" font-size="9.6" fill="#000" text-anchor="middle" textLength="23.1" lengthAdjust="spacingAndGlyphs" >1993</text>
<text x="131.00" y="522.00" font-size="9.6" fill="#000" text-anchor="middle" textLength="23.1" lengthAdjust="spacingAndGlyphs" >1994</text>
<text x="170.30" y="522.00" font-size="9.6" fill="#000" text-anchor="middle" textLength="23.1" lengthAdjust="spacingAndGlyphs" >1995</text>
<text x="209.60" y="522.00" font-size="9.6" fill="#000" text-anchor="middle" textLength="23.1" lengthAdjust="spacingAndGlyphs" >1996</text>
<text x="248.90" y="522.00" font-size="9.6" fill="#000" text-anchor="middle" textLength="23.1" lengthAdjust="spacingAndGlyphs" >1997</text>
<text x="22.00" y="55.50" font-size="9.6" fill="#000" text-anchor="middle" textLength="35.4" lengthAdjust="spacingAndGlyphs" transform="rotate(-90 22.00 55.50)" ><tspan font-style="italic">σ</tspan><tspan font-size="6.7" font-style="italic" dy="1.2">OBS</tspan><tspan dy="-1.2">, %</tspan></text>
<text x="21.80" y="159.60" font-size="9.6" fill="#000" text-anchor="middle" textLength="49.7" lengthAdjust="spacingAndGlyphs" transform="rotate(-90 21.80 159.60)" ><tspan font-style="italic">σ</tspan><tspan font-size="6.7" font-style="italic" dy="1.2">S</tspan><tspan dy="-1.2">, km d</tspan><tspan font-size="6.7" dy="-3.5">−1</tspan></text>
<text x="13.10" y="262.80" font-size="9.6" fill="#000" text-anchor="middle" textLength="34.1" lengthAdjust="spacingAndGlyphs" transform="rotate(-90 13.10 262.80)" ><tspan font-style="italic">σ</tspan><tspan font-size="6.7" font-style="italic" dy="1.2">MIN</tspan><tspan dy="-1.2">, %</tspan></text>
<text x="10.20" y="366.00" font-size="9.6" fill="#000" text-anchor="middle" textLength="29.2" lengthAdjust="spacingAndGlyphs" transform="rotate(-90 10.20 366.00)" ><tspan font-style="italic">σ</tspan><tspan font-size="6.7" font-style="italic" dy="1.2">I</tspan><tspan dy="-1.2">, km</tspan></text>
<text x="16.10" y="469.50" font-size="9.6" fill="#000" text-anchor="middle" textLength="59.6" lengthAdjust="spacingAndGlyphs" transform="rotate(-90 16.10 469.50)" ><tspan font-style="italic">σ</tspan><tspan font-size="6.7" font-style="italic" dy="1.2">SID</tspan><tspan dy="-1.2">, </tspan><tspan font-style="italic">σ</tspan><tspan font-size="6.7" font-style="italic" dy="1.2">COM</tspan><tspan dy="-1.2">, %</tspan></text>
<text x="304.50" y="55.50" font-size="9.6" fill="#ff7f0e" text-anchor="middle" textLength="36.0" lengthAdjust="spacingAndGlyphs" transform="rotate(-90 304.50 55.50)" ><tspan font-style="italic">C</tspan><tspan font-size="6.7" font-style="italic" dy="1.2">OBS</tspan><tspan dy="-1.2">, %</tspan></text>
<text x="314.80" y="159.00" font-size="9.6" fill="#ff7f0e" text-anchor="middle" textLength="59.7" lengthAdjust="spacingAndGlyphs" transform="rotate(-90 314.80 159.00)" >Drift, km d<tspan font-size="6.7" dy="-3.5">−1</tspan></text>
<text x="304.50" y="262.50" font-size="9.6" fill="#ff7f0e" text-anchor="middle" textLength="26.9" lengthAdjust="spacingAndGlyphs" transform="rotate(-90 304.50 262.50)" ><tspan font-style="italic">C</tspan><tspan font-size="6.7" font-style="italic" dy="1.2">A</tspan><tspan dy="-1.2">, %</tspan></text>
<rect x="218.6" y="471.6" width="53.79999999999998" height="31.399999999999977" rx="1.8" fill="#fff" fill-opacity="0.8" stroke="#cccccc" stroke-width="0.8"/>
<line x1="221.5" y1="479" x2="240.4" y2="479" stroke="#1f77b4" stroke-width="1.37"/>
<line x1="221.5" y1="494" x2="240.4" y2="494" stroke="#ff7f0e" stroke-width="1.37"/>
<text x="247.60" y="481.50" font-size="9.6" fill="#000" text-anchor="start" textLength="17.8" lengthAdjust="spacingAndGlyphs" ><tspan font-style="italic">σ</tspan><tspan font-size="6.7" font-style="italic" dy="1.2">SID</tspan></text>
<text x="247.60" y="496.50" font-size="9.6" fill="#000" text-anchor="start" textLength="21.6" lengthAdjust="spacingAndGlyphs" ><tspan font-style="italic">σ</tspan><tspan font-size="6.7" font-style="italic" dy="1.2">COM</tspan></text>
</svg>
</body></html>
